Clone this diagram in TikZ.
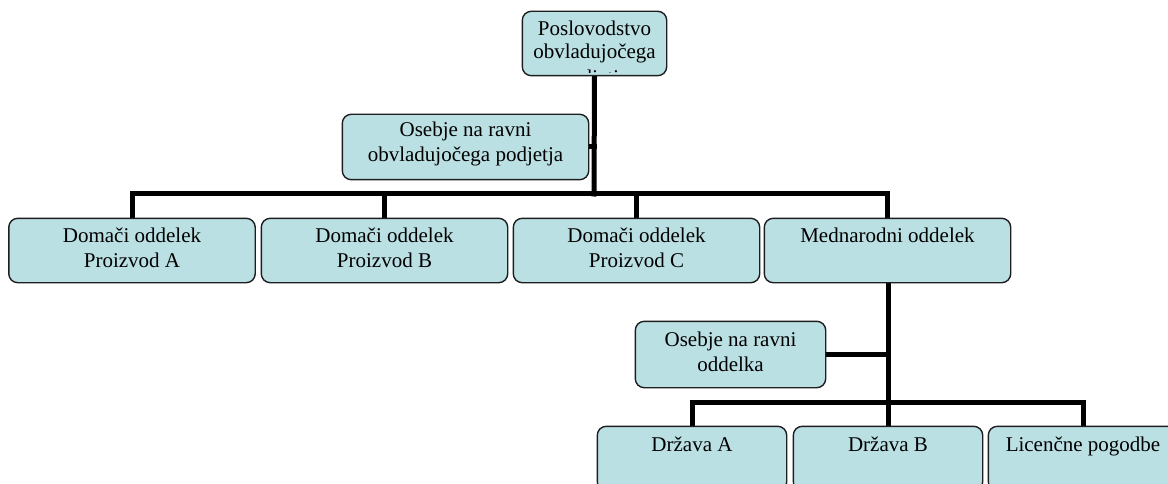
\documentclass[tikz,border=0pt]{standalone}
\usepackage{fontspec}
\setmainfont{Liberation Serif}
\definecolor{boxfill}{RGB}{187,224,227}
\definecolor{boxline}{RGB}{30,30,30}
\begin{document}
\begin{tikzpicture}[x=1pt,y=-1pt,
  orgbox/.style={draw=boxline, line width=1.4pt, rounded corners=9pt, fill=boxfill,
    inner sep=0pt, minimum height=63pt},
  wide/.style={minimum width=245pt},
  narrow/.style={minimum width=188pt},
  conn/.style={line width=5pt, line cap=rect, line join=miter, black},
  lbl/.style={inner sep=0pt, anchor=base, font=\fontsize{21}{25}\selectfont},
]
\clip (0,0) rectangle (1168,484);
\fill[white] (0,0) rectangle (1168,484);

% junction points of the two buses
\coordinate (j1) at (594,194);
\coordinate (j2) at (888,402);

% boxes (positions only; drawn after the connectors)
\path
  (594.5,43.5) node[orgbox, minimum width=143pt] (top) {}
  (465.5,147)  node[orgbox, wide, minimum height=64pt] (s1) {}
  (132,250.5)  node[orgbox, wide] (a) {}
  (384.5,250.5) node[orgbox, wide] (b) {}
  (636.5,250.5) node[orgbox, wide] (c) {}
  (887.5,250.5) node[orgbox, wide] (d) {}
  (730.5,354.5) node[orgbox, minimum width=189pt, minimum height=65pt] (s2) {}
  (692,458.5)  node[orgbox, narrow] (ra) {}
  (888,458.5)  node[orgbox, narrow] (rb) {}
  (1083,458.5) node[orgbox, narrow] (rl) {};

% connectors
\draw[conn] (top.south) -- (j1);
\draw[conn] (s1.east) -- (s1.east -| j1);
\draw[conn] (a.north) -- (a.north |- j1) -- (d.north |- j1) -- (d.north);
\draw[conn] (b.north) -- (b.north |- j1);
\draw[conn] (c.north) -- (c.north |- j1);
\draw[conn] (d.south -| j2) -- (j2);
\draw[conn] (s2.east) -- (s2.east -| j2);
\draw[conn] (ra.north) -- (ra.north |- j2) -- (rl.north |- j2) -- (rl.north);
\draw[conn] (rb.north) -- (rb.north |- j2);

% boxes drawn over the connector ends
\foreach \n in {top,s1,a,b,c,d,s2,ra,rb,rl}{
  \draw[draw=boxline, line width=1.4pt, rounded corners=9pt, fill=boxfill]
    (\n.south west) rectangle (\n.north east);
}

% labels; the top box cuts off its overflowing third line
\begin{scope}
  \clip[rounded corners=8pt] ([shift={(1.5,-3)}]top.south west) rectangle ([shift={(-1.5,1.5)}]top.north east);
  \node[lbl, font=\fontsize{21}{23}\selectfont] (ttop) at (top.north) [yshift=-24pt]
    {\begin{tabular}[t]{@{}c@{}}Poslovodstvo\\obvladujočega\\[3pt]podjetja\end{tabular}};
\end{scope}
\node[lbl] (ts1) at (s1.north) [yshift=-22pt]
  {\begin{tabular}[t]{@{}c@{}}Osebje na ravni\\obvladujočega podjetja\end{tabular}};
\node[lbl] (ta) at (a.north) [yshift=-24pt]
  {\begin{tabular}[t]{@{}c@{}}Domači oddelek\\Proizvod A\end{tabular}};
\node[lbl] (tb) at (b.north) [yshift=-24pt]
  {\begin{tabular}[t]{@{}c@{}}Domači oddelek\\Proizvod B\end{tabular}};
\node[lbl] (tc) at (c.north) [yshift=-24pt]
  {\begin{tabular}[t]{@{}c@{}}Domači oddelek\\Proizvod C\end{tabular}};
\node[lbl] (td) at (d.north) [yshift=-24pt] {Mednarodni oddelek};
\node[lbl] (ts2) at (s2.north) [yshift=-25pt]
  {\begin{tabular}[t]{@{}c@{}}Osebje na ravni\\oddelka\end{tabular}};
\node[lbl] (tra) at (ra.north) [yshift=-25pt] {Država A};
\node[lbl] (trb) at (rb.north) [yshift=-25pt] {Država B};
\node[lbl] (trl) at (rl.north) [yshift=-25pt] {Licenčne pogodbe};
\end{tikzpicture}
\end{document}
